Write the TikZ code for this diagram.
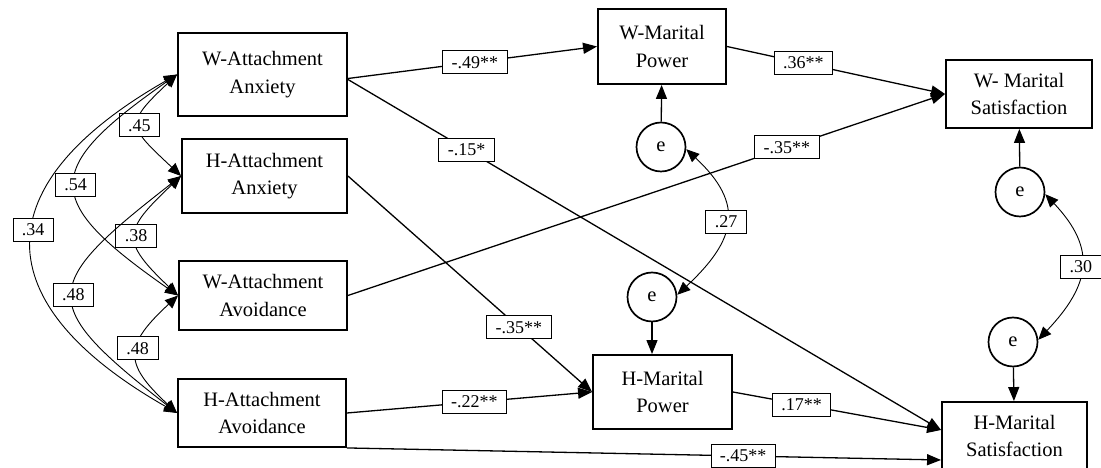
\documentclass[tikz,border=0pt]{standalone}
\usepackage{fontspec}
\setmainfont{Liberation Serif}
\usetikzlibrary{arrows.meta}

\begin{document}
\begin{tikzpicture}[x=1pt, y=1pt,
    var/.style={draw, line width=1.9pt, align=center, inner sep=0pt, font=\fontsize{20.5}{27.5}\selectfont},
    err/.style={draw, circle, line width=1.7pt, minimum size=49pt, inner sep=0pt, font=\fontsize{20.5}{24}\selectfont},
    coef/.style={draw, fill=white, line width=0.8pt, inner xsep=9pt, inner ysep=0pt, minimum height=23pt, font=\fontsize{18}{20}\selectfont},
    effect/.style={line width=1.3pt, -{Triangle[length=14pt, width=11pt]}},
    cov/.style={line width=0.9pt, {Triangle[length=13pt, width=11pt]}-{Triangle[length=13pt, width=11pt]}}]
    \useasboundingbox (0,0) rectangle (1101,468);

    % exogenous variables
    \node[var, minimum width=169pt, minimum height=83pt] (WAA) at (262.5,393.5) {W-Attachment\\Anxiety};
    \node[var, minimum width=165pt, minimum height=74pt] (HAA) at (264.5,292) {H-Attachment\\Anxiety};
    \node[var, minimum width=168pt, minimum height=69pt] (WAV) at (263,172.5) {W-Attachment\\Avoidance};
    \node[var, minimum width=168pt, minimum height=68pt] (HAV) at (262,55) {H-Attachment\\Avoidance};

    % mediators and outcomes
    \node[var, minimum width=128pt, minimum height=75pt] (WMP) at (662,421.5) {W-Marital\\Power};
    \node[var, minimum width=139pt, minimum height=74pt] (HMP) at (662.5,76) {H-Marital\\Power};
    \node[var, minimum width=146pt, minimum height=68pt] (WMS) at (1019,374) {W- Marital\\Satisfaction};
    \node[var, minimum width=145pt, minimum height=68pt] (HMS) at (1014.5,32) {H-Marital\\Satisfaction};

    % residuals
    \node[err] (e1) at (661,321) {e};
    \node[err] (e2) at (652,171) {e};
    \node[err] (e3) at (1020,276) {e};
    \node[err] (e4) at (1013,126) {e};

    % paths
    \draw[effect] ([yshift=-4pt]WAA.east) -- node[coef, pos=.51] {-.49**} (WMP.west);
    \draw[effect] ([yshift=-5pt]WAA.east) -- node[coef, pos=.2] {-.15*} ([yshift=6pt]HMS.west);
    \draw[effect] (HAA.east) -- node[coef, pos=.7] {-.35**} (HMP.west);
    \draw[effect] (WAV.east) -- node[coef, pos=.735] {-.35**} (WMS.west);
    \draw[effect] (HAV.east) -- node[coef, pos=.52] {-.22**} (HMP.west);
    \draw[effect] (HAV.south east) -- node[coef, pos=.667] {-.45**} ([yshift=-24pt]HMS.west);
    \draw[effect] (WMP.east) -- node[coef, pos=.35] {.36**} (WMS.west);
    \draw[effect] (HMP.east) -- node[coef, pos=.33] {.17**} ([yshift=6pt]HMS.west);

    \draw[effect] (e1) -- (WMP);
    \draw[effect] (e2.south) -- (e2.south |- HMP.north);
    \draw[effect] (e3) -- (WMS);
    \draw[effect] (e4) -- (HMS);

    % correlations
    \draw[cov] (e1.-5) .. controls +(59,-55) and +(59,55) .. node[coef] {.27} (e2.5);
    \draw[cov] (e3.-5) .. controls +(52,-55) and +(52,55) .. node[coef] {.30} (e4.5);
    \foreach \a/\b/\k/\m/\p/\r in {WAA/HAA/53/50/.5/.45, HAA/WAV/58/55/.5/.38, WAV/HAV/54/50/.44/.48,
        WAA/WAV/136/95/.5/.54, HAA/HAV/141/110/.5/.48, WAA/HAV/193/110/.46/.34} {
    \draw[cov] (\a.west) .. controls +(-\k,-\m) and +(-\k,\m) .. node[coef, pos=\p] {\r} (\b.west);
    }
\end{tikzpicture}
\end{document}
